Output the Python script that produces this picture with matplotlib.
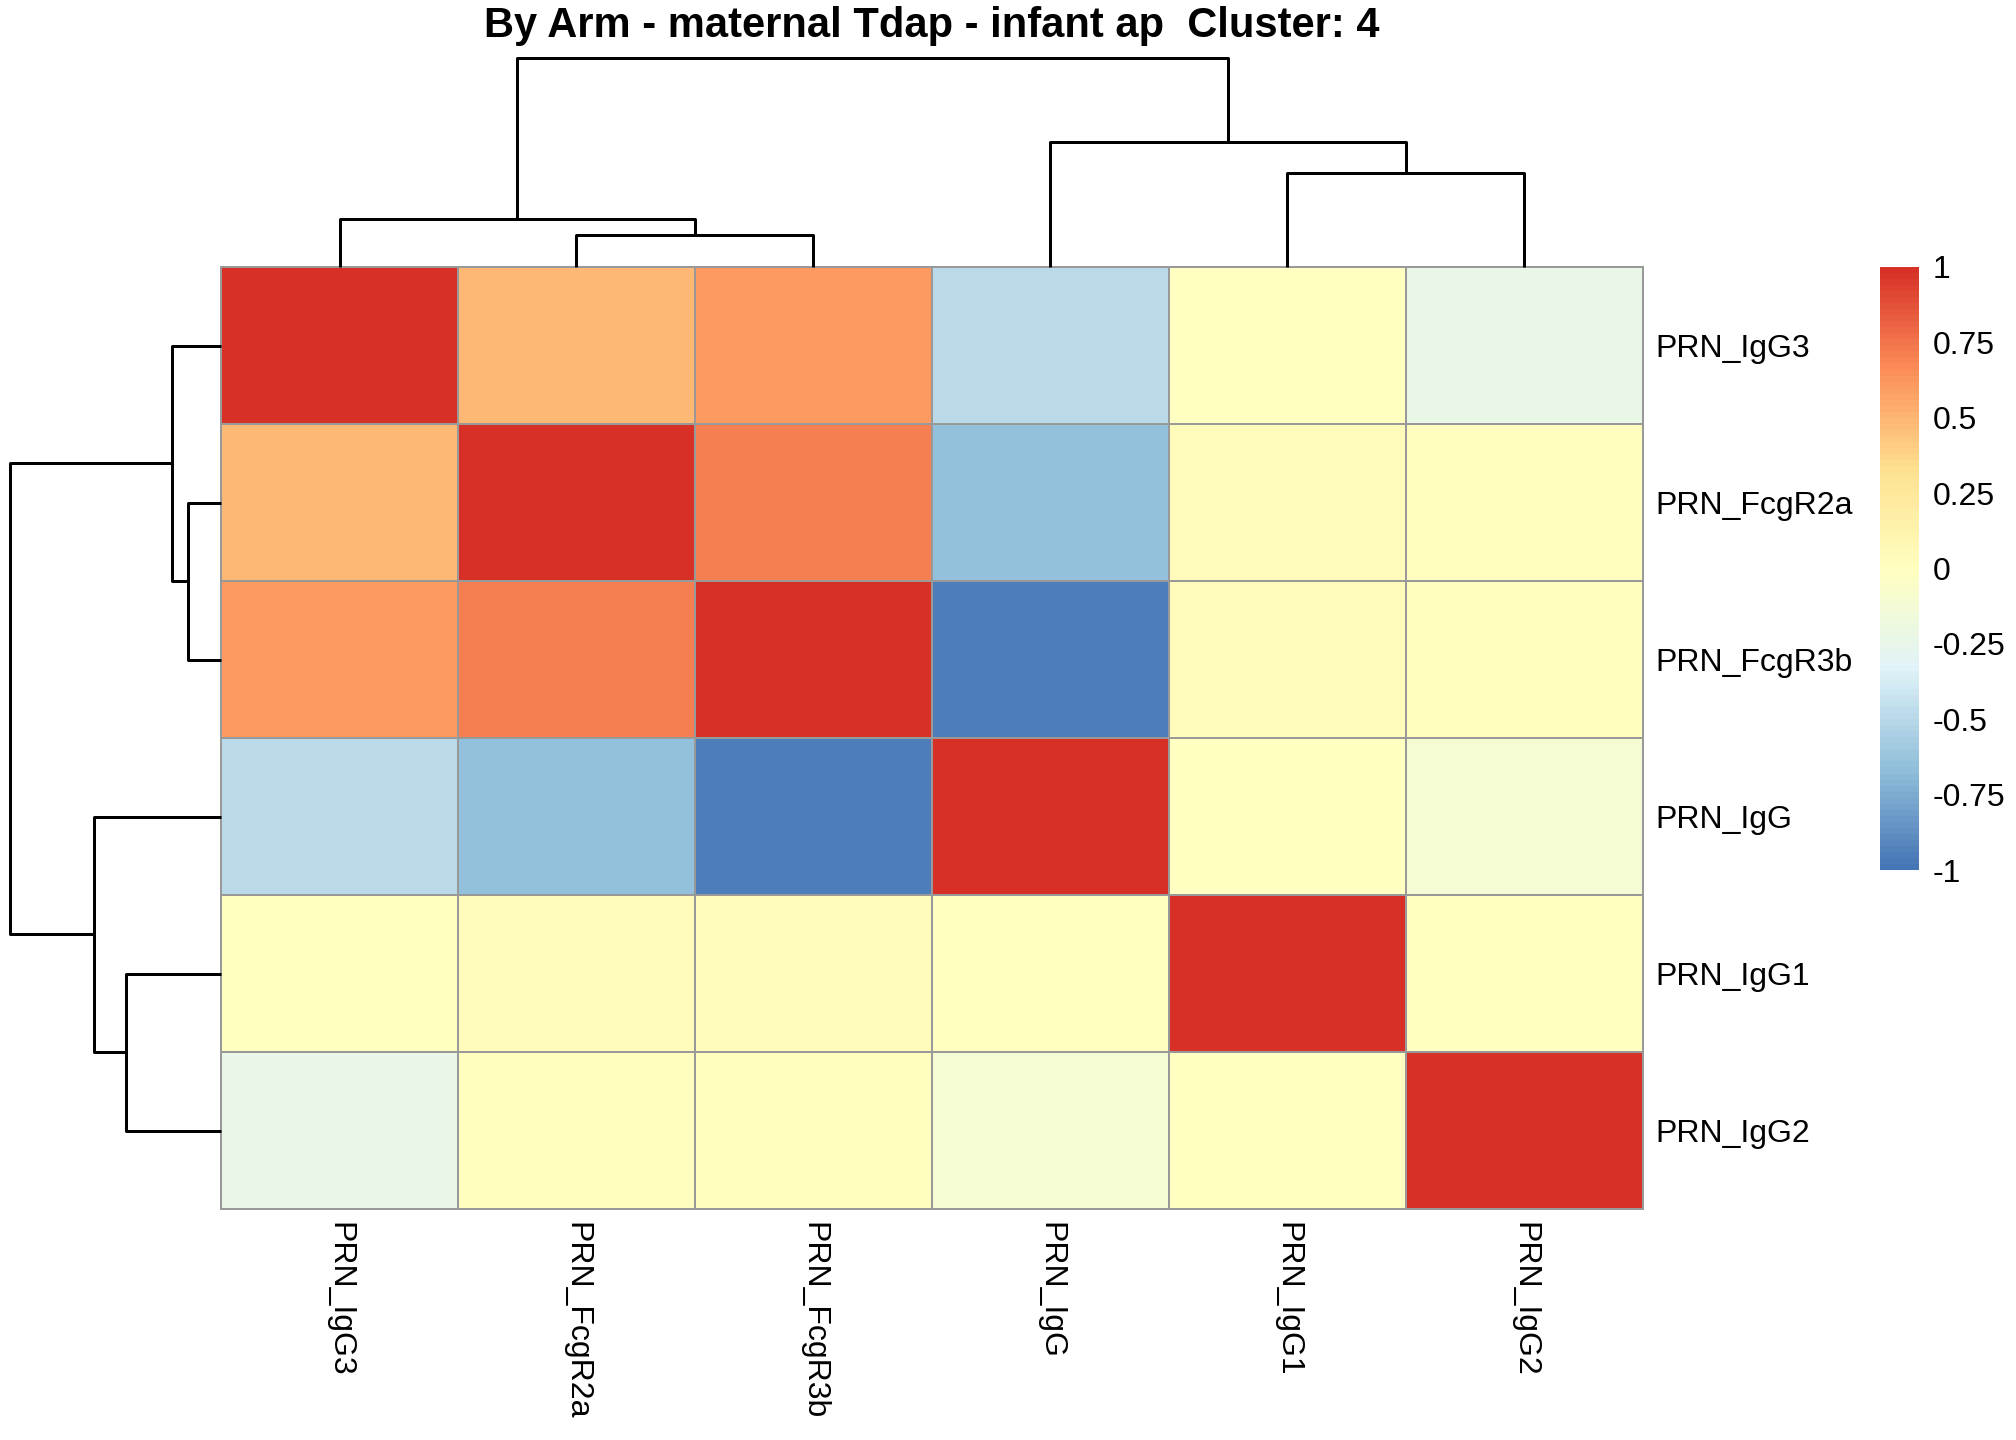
import numpy as np
import matplotlib as mpl
mpl.use('Agg')
from matplotlib import pyplot as plt
from matplotlib.colors import LinearSegmentedColormap


labels = ['PRN_IgG3', 'PRN_FcgR2a', 'PRN_FcgR3b', 'PRN_IgG', 'PRN_IgG1', 'PRN_IgG2']

# correlation matrix, already in the clustered order
corr = np.array([
    [1.00, 0.48, 0.61, -0.49, -0.01, -0.23],
    [0.48, 1.00, 0.71, -0.66, 0.03, 0.01],
    [0.61, 0.71, 1.00, -0.96, 0.03, 0.01],
    [-0.49, -0.66, -0.96, 1.00, -0.01, -0.12],
    [-0.01, 0.03, 0.03, -0.01, 1.00, -0.02],
    [-0.23, 0.01, 0.01, -0.12, -0.02, 1.00],
])

# merges: (left node, right node, height); leaves are 0..5 in display order
merges = [
    (1, 2, 0.155),
    (0, 6, 0.23),
    (4, 5, 0.45),
    (3, 8, 0.60),
    (7, 9, 1.00),
]

legendTicks = [1, 0.75, 0.5, 0.25, 0, -0.25, -0.5, -0.75, -1]
legendLabels = ['1', '0.75', '0.5', '0.25', '0', '-0.25', '-0.5', '-0.75', '-1']

title = 'By Arm - maternal Tdap - infant ap  Cluster: 4'


def draw_dendrogram(ax, orientation):
    pos = {i: i + 0.5 for i in range(len(labels))}
    hgt = {i: 0. for i in range(len(labels))}
    for k, (a, b, h) in enumerate(merges):
        node = len(labels) + k
        xs = [pos[a], pos[a], pos[b], pos[b]]
        ys = [hgt[a], h, h, hgt[b]]
        if orientation == 'top':
            ax.plot(xs, ys, color='black', lw=1.5, solid_capstyle='butt', clip_on=False)
        else:
            ax.plot(ys, xs, color='black', lw=1.5, solid_capstyle='butt', clip_on=False)
        pos[node] = (pos[a] + pos[b]) / 2.
        hgt[node] = h
    ax.set_axis_off()


mpl.rc('font', family=['Liberation Sans', 'DejaVu Sans'])
fontSize = 16

fig = plt.figure(figsize=(14, 10), dpi=144)

hmLeft, hmRight = 221 / 2016, 1643 / 2016
hmTop, hmBottom = 1 - 267 / 1440, 1 - 1209 / 1440

cmap = LinearSegmentedColormap.from_list(
    'rdylbu', ['#4575B4', '#91BFDB', '#E0F3F8', '#FFFFBF', '#FEE090', '#FC8D59', '#D73027'], N=100
)

axHm = fig.add_axes([hmLeft, hmBottom, hmRight - hmLeft, hmTop - hmBottom])
n = len(labels)
mesh = axHm.pcolormesh(
    np.arange(n + 1), np.arange(n + 1), corr, cmap=cmap, vmin=-1, vmax=1,
    edgecolors='#999999', linewidth=1.0
)
axHm.set_xlim(0, n)
axHm.set_ylim(n, 0)
for s in axHm.spines.values():
    s.set_color('#999999')
    s.set_linewidth(1.0)
axHm.set_xticks(np.arange(n) + 0.5)
axHm.set_xticklabels(labels, rotation=270, ha='center', va='top', fontsize=fontSize)
axHm.set_yticks(np.arange(n) + 0.5)
axHm.set_yticklabels(labels, fontsize=fontSize)
axHm.yaxis.tick_right()
axHm.tick_params(axis='x', length=0, pad=6.5)
axHm.tick_params(axis='y', length=0, pad=6)

# column dendrogram
dTop = 1 - 58 / 1440
axTop = fig.add_axes([hmLeft, hmTop, hmRight - hmLeft, dTop - hmTop])
axTop.set_xlim(0, n)
axTop.set_ylim(0, 1.0)
draw_dendrogram(axTop, 'top')

# row dendrogram
dLeft = 10 / 2016
axLeft = fig.add_axes([dLeft, hmBottom, hmLeft - dLeft, hmTop - hmBottom])
axLeft.set_ylim(n, 0)
axLeft.set_xlim(1.0, 0)
draw_dendrogram(axLeft, 'left')

# legend
cbBottom = 1 - 870 / 1440
cax = fig.add_axes([1880 / 2016, cbBottom, 39 / 2016, hmTop - cbBottom])
cb = fig.colorbar(mesh, cax=cax)
cb.outline.set_visible(False)
cb.set_ticks(legendTicks)
cb.set_ticklabels(legendLabels)
cax.tick_params(length=0, pad=7, labelsize=fontSize)

fig.text((hmLeft + hmRight) / 2, 1 - 26 / 1440, title,
         ha='center', va='center', fontsize=fontSize * 1.3, fontweight='bold')

fig.savefig('out.png', dpi=144)
